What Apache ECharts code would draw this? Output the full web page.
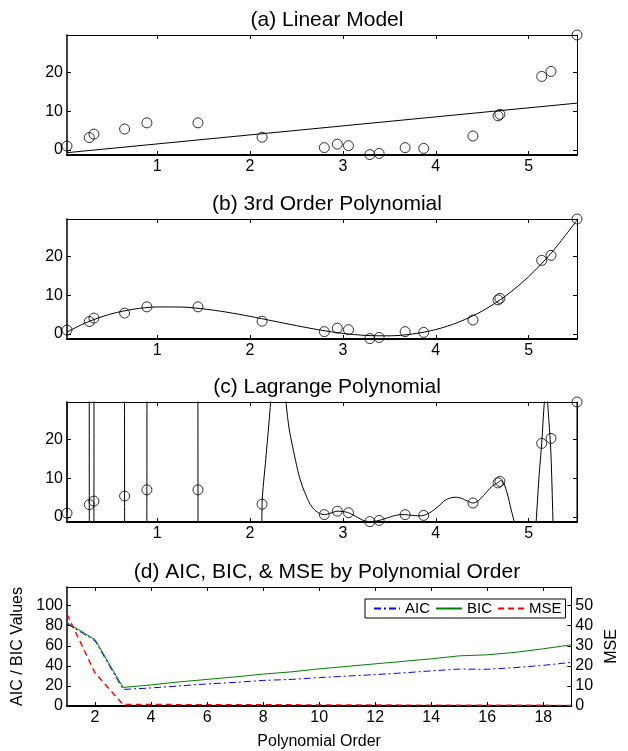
<!DOCTYPE html>
<html>
<head>
<meta charset="utf-8">
<script src="https://cdn.jsdelivr.net/npm/echarts@6/dist/echarts.min.js"></script>
<style>
  html, body { margin: 0; padding: 0; background: #fff; }
  #chart { width: 628px; height: 751px; }
</style>
</head>
<body>
<div id="chart"></div>
<script>
// observed data points, shared by panels a, b, c
var dataX = [0.03, 0.27, 0.32, 0.65, 0.89, 1.44, 2.13, 2.80, 2.94, 3.06, 3.29, 3.39, 3.67, 3.87, 4.40, 4.67, 4.69, 5.14, 5.24, 5.52];
var dataY = [1.0, 3.2, 4.1, 5.4, 7.0, 7.0, 3.3, 0.6, 1.5, 1.1, -1.2, -0.9, 0.6, 0.4, 3.6, 8.8, 9.2, 19.0, 20.3, 29.7];

// (a) linear fit, end points
var linX = [0.03, 5.52];
var linY = [-0.7, 12.1];

// (b) 3rd order fit
var cubicX = [0.03, 0.25, 0.5, 0.75, 1.0, 1.25, 1.5, 1.75, 2.0, 2.25, 2.5, 2.75, 3.0, 3.25, 3.5, 3.75, 4.0, 4.25, 4.5, 4.75, 5.0, 5.25, 5.52];
var cubicY = [0.50, 3.08, 5.15, 6.41, 6.98, 6.96, 6.47, 5.63, 4.55, 3.35, 2.15, 1.04, 0.16, -0.38, -0.48, -0.01, 1.14, 3.09, 5.93, 9.80, 14.82, 21.12, 29.40];

// (c) Lagrange interpolant (+-100 = far off scale)
var lagX = [0.03, 0.035, 0.265, 0.27, 0.275, 0.315, 0.32, 0.325, 0.645, 0.65, 0.655, 0.885, 0.89, 0.895, 1.435, 1.44, 1.445,
  2.09, 2.13, 2.17, 2.21, 2.24, 2.30, 2.36, 2.39, 2.42, 2.46, 2.50, 2.53, 2.57, 2.61, 2.65, 2.70, 2.75, 2.80, 2.87, 2.94, 3.00,
  3.06, 3.15, 3.22, 3.29, 3.34, 3.39, 3.47, 3.55, 3.62, 3.67, 3.75, 3.82, 3.87, 3.95, 4.03, 4.10, 4.17, 4.22, 4.28, 4.34, 4.40,
  4.46, 4.53, 4.60, 4.67, 4.70, 4.73, 4.77, 4.81, 4.85, 4.90, 5.00, 5.06, 5.08, 5.11, 5.14, 5.17, 5.19, 5.22, 5.24, 5.26, 5.28,
  5.35, 5.45, 5.515, 5.52];
var lagY = [1.0, 100, 100, 3.2, -100, -100, 4.1, 100, 100, 5.4, -100, -100, 7.0, 100, 100, 7.0, -100,
  -100, 3.3, 15, 26, 36, 60, 38, 29, 23, 18, 13.5, 10.5, 7.5, 5.2, 3.2, 1.7, 0.9, 0.6, 1.0, 1.5, 1.4,
  1.1, 0.0, -0.9, -1.2, -1.1, -0.9, -0.3, 0.3, 0.6, 0.6, 0.4, 0.3, 0.4, 1.3, 2.8, 4.3, 5.0, 5.1, 4.8, 4.1, 3.6,
  4.2, 6.0, 7.8, 8.9, 9.4, 8.8, 6.0, 2.0, -2, -12, -30, -8, -1.3, 10, 19.0, 30, 32, 24, 16, 0, -20,
  -80, -100, -100, 29.7];

// (d) information criteria by polynomial order
var orders = [1, 2, 3, 4, 5, 6, 7, 8, 9, 10, 11, 12, 13, 14, 15, 16, 17, 18, 19];
var aic = [82, 65, 16.5, 18, 20, 22, 23.5, 25.5, 26.5, 28.3, 29.8, 31.3, 33, 35, 36.8, 36.6, 38.3, 40.5, 43.5];
var bic = [83, 66.3, 18.5, 21, 24, 26.5, 29, 31.8, 34, 37, 39.5, 42, 44.5, 47, 50, 51, 53.5, 57, 61];
var mse = [45.8, 16.5, 0.8, 0.75, 0.7, 0.7, 0.65, 0.6, 0.6, 0.55, 0.5, 0.5, 0.45, 0.45, 0.4, 0.4, 0.35, 0.35, 0.3];

var xTicks = [1, 2, 3, 4, 5];
var yTicks = [0, 10, 20];
var orderTicks = [2, 4, 6, 8, 10, 12, 14, 16, 18];
var icTicks = [0, 20, 40, 60, 80, 100];
var mseTicks = [0, 10, 20, 30, 40, 50];

var FONT = '"Liberation Sans", Arial, sans-serif';

function zip(xs, ys) {
  return xs.map(function (x, i) { return [x, ys[i]]; });
}

// one axis of a boxed plot; mirror axes get ticks but no labels
function axis(gridIndex, pos, min, max, ticks, showLabels, lineW) {
  return {
    type: 'value',
    gridIndex: gridIndex,
    position: pos,
    min: min,
    max: max,
    splitLine: { show: false },
    axisLine: { show: true, onZero: false, lineStyle: { color: '#000', width: lineW || 1 } },
    axisTick: { show: true, inside: true, length: 4, customValues: ticks, lineStyle: { color: '#000' } },
    axisLabel: {
      show: showLabels, customValues: ticks, color: '#000', fontSize: 16, fontFamily: FONT, margin: 4
    }
  };
}

function axisName(ax, text, gap) {
  ax.name = text;
  ax.nameLocation = 'middle';
  ax.nameGap = gap;
  ax.nameTextStyle = { color: '#000', fontSize: 16, fontFamily: FONT };
  return ax;
}

var tops = [35, 219, 402, 587];
var grids = tops.map(function (t) {
  return { left: 67, width: 510, top: t, height: 120 };
});
grids[3].height = 119;

var titles = ['(a) Linear Model', '(b) 3rd Order Polynomial', '(c) Lagrange Polynomial',
  '(d) AIC, BIC, & MSE by Polynomial Order'].map(function (txt, i) {
  return {
    text: txt, left: 322, textAlign: 'center', top: tops[i] - 30,
    textStyle: { color: '#000', fontSize: 21, fontWeight: 'normal', fontFamily: FONT }
  };
});

var xAxes = [], yAxes = [];
for (var g = 0; g < 3; g++) {
  xAxes.push(axis(g, 'bottom', 0.03, 5.52, xTicks, true, 2));
  xAxes.push(axis(g, 'top', 0.03, 5.52, xTicks, false));
  yAxes.push(axis(g, 'left', -1.3, 29.7, yTicks, true, 1.5));
  yAxes.push(axis(g, 'right', -1.3, 29.7, yTicks, false));
}
xAxes.push(axisName(axis(3, 'bottom', 1, 19, orderTicks, true, 2), 'Polynomial Order', 28));
xAxes.push(axis(3, 'top', 1, 19, orderTicks, false));
yAxes.push(axisName(axis(3, 'left', 0, 118.6, icTicks, true, 1.5), 'AIC / BIC Values', 37));
yAxes.push(axisName(axis(3, 'right', 0, 59.3, mseTicks, true), 'MSE', 28));

function circles(g) {
  return {
    type: 'scatter', xAxisIndex: 2 * g, yAxisIndex: 2 * g, data: zip(dataX, dataY),
    symbol: 'circle', symbolSize: 10, clip: false, z: 5,
    itemStyle: { color: 'rgba(0,0,0,0)', borderColor: '#000', borderWidth: 1 }
  };
}
function curve(g, xs, ys, smooth) {
  return {
    type: 'line', xAxisIndex: 2 * g, yAxisIndex: 2 * g, data: zip(xs, ys),
    showSymbol: false, symbol: 'none', smooth: smooth, clip: true,
    lineStyle: { color: '#000', width: 1 }
  };
}

var chart = echarts.init(document.getElementById('chart'));
chart.setOption({
  animation: false,
  backgroundColor: '#fff',
  title: titles,
  grid: grids,
  xAxis: xAxes,
  yAxis: yAxes,
  legend: {
    data: ['AIC', 'BIC', 'MSE'],
    left: 365, top: 599,
    itemWidth: 26, itemHeight: 12, itemGap: 5,
    padding: [2, 4, 2, 8],
    itemStyle: { opacity: 0 },
    borderColor: '#000', borderWidth: 1, backgroundColor: '#fff',
    textStyle: { color: '#000', fontSize: 15, fontFamily: FONT }
  },
  series: [
    circles(0), curve(0, linX, linY, false),
    circles(1), curve(1, cubicX, cubicY, 0.3),
    circles(2), curve(2, lagX, lagY, 0.25),
    {
      name: 'AIC', type: 'line', xAxisIndex: 6, yAxisIndex: 6, data: zip(orders, aic),
      symbol: 'none', color: '#0000ff',
      lineStyle: { color: '#0000ff', width: 1, type: [7, 3, 2, 3] }
    },
    {
      name: 'BIC', type: 'line', xAxisIndex: 6, yAxisIndex: 6, data: zip(orders, bic),
      symbol: 'none', color: '#008000',
      lineStyle: { color: '#008000', width: 1 }
    },
    {
      name: 'MSE', type: 'line', xAxisIndex: 6, yAxisIndex: 7, data: zip(orders, mse),
      symbol: 'none', color: '#ff0000',
      lineStyle: { color: '#ff0000', width: 1.4, type: [6, 4] }
    }
  ]
});
</script>
</body>
</html>
